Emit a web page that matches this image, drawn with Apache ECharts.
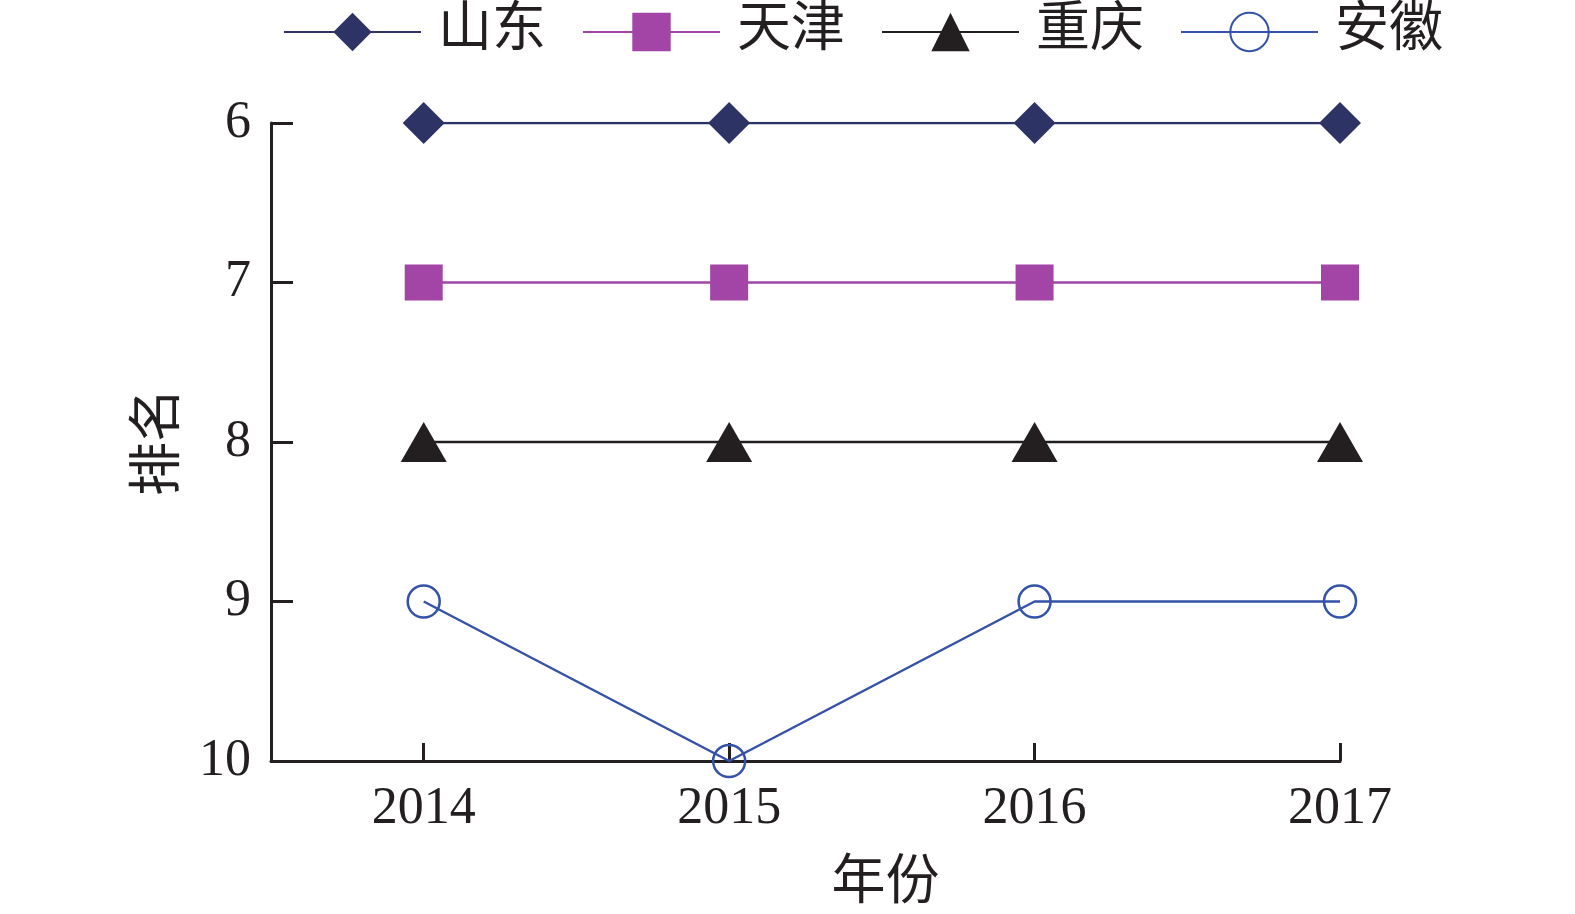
<!DOCTYPE html>
<html>
<head>
<meta charset="utf-8">
<script src="https://cdn.jsdelivr.net/npm/echarts@6/dist/echarts.min.js"></script>
<style>
  html, body { margin: 0; padding: 0; background: #fff; }
  #main { width: 1575px; height: 914px; }
</style>
</head>
<body>
<div id="main"></div>
<script>
// 数据
var years = [2014, 2015, 2016, 2017];
var shandong = [6, 6, 6, 6];
var tianjin = [7, 7, 7, 7];
var chongqing = [8, 8, 8, 8];
var anhui = [9, 10, 9, 9];

var FONT = '"Liberation Serif", "Times New Roman", "Noto Sans CJK SC", serif';
var AXIS = '#231f20';

function pairs(vals) {
  return years.map(function (y, i) { return [y, vals[i]]; });
}

var myChart = echarts.init(document.getElementById('main'));

function line(name, vals, color, symbol, size, extra) {
  return Object.assign({
    name: name,
    type: 'line',
    data: pairs(vals),
    symbol: symbol,
    symbolSize: size,
    lineStyle: { color: color, width: 2.5 },
    itemStyle: { color: color },
    emphasis: { disabled: true },
    z: 3
  }, extra || {});
}

var option = {
  animation: false,
  backgroundColor: '#fff',
  textStyle: { fontFamily: FONT },
  legend: {
    top: 0,
    left: 278,
    itemWidth: 137,
    itemHeight: 48,
    itemGap: 36,
    textStyle: { fontSize: 54, fontFamily: FONT, color: AXIS, padding: [0, 0, 0, 12] },
    data: ['山东', '天津', '重庆', '安徽']
  },
  grid: { left: 271, right: 235, top: 123, bottom: 153, outerBoundsMode: 'none' },
  xAxis: {
    type: 'value',
    min: 2013.5,
    max: 2017,
    name: '年份',
    nameLocation: 'middle',
    nameGap: 97,
    nameTextStyle: { fontSize: 54, fontFamily: FONT, color: AXIS, padding: [0, 0, 0, 160] },
    splitLine: { show: false },
    axisLine: { lineStyle: { color: AXIS, width: 3 } },
    axisTick: { inside: true, length: 18, lineStyle: { color: AXIS, width: 3 }, customValues: years },
    axisLabel: { fontSize: 52, fontFamily: FONT, color: AXIS, margin: 22, customValues: years,
      formatter: function (v) { return String(v); } }
  },
  yAxis: {
    type: 'value',
    inverse: true,
    min: 6,
    max: 10,
    interval: 1,
    name: '排名',
    nameLocation: 'middle',
    nameGap: 76,
    nameTextStyle: { fontSize: 54, fontFamily: FONT, color: AXIS },
    splitLine: { show: false },
    axisLine: { show: true, lineStyle: { color: AXIS, width: 3 } },
    axisTick: { inside: true, length: 22, lineStyle: { color: AXIS, width: 3 } },
    axisLabel: { fontSize: 52, fontFamily: FONT, color: AXIS, margin: 20 }
  },
  series: [
    line('山东', shandong, '#2e3366', 'diamond', [42, 42]),
    line('天津', tianjin, '#a245a6', 'rect', [38, 36]),
    line('重庆', chongqing, '#231f20', 'triangle', [46, 40]),
    line('安徽', anhui, '#3452a8', 'circle', 32, {
      itemStyle: { color: 'rgba(255,255,255,0)', borderColor: '#3452a8', borderWidth: 2.5 }
    })
  ]
};

myChart.setOption(option);
</script>
</body>
</html>
